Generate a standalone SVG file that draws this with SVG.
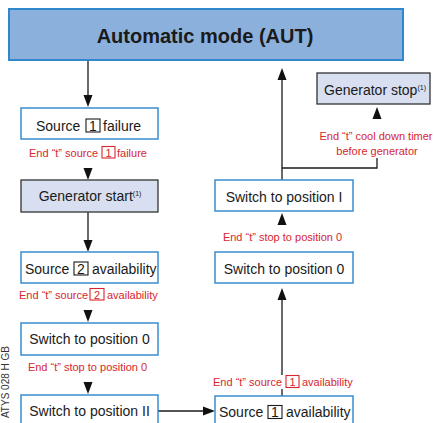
<svg xmlns="http://www.w3.org/2000/svg" width="434" height="423" viewBox="0 0 434 423">
<style>
.box{fill:#ffffff;stroke:#3a8dcf;stroke-width:1.5}
.gen{fill:#d7dff0;stroke:#333333;stroke-width:1.3}
.main{fill:#8cb0dc;stroke:#2e88cb;stroke-width:2}
.t{font-family:"Liberation Sans",Arial,sans-serif;font-size:14px;fill:#1a1a1a}
.r{font-family:"Liberation Sans",Arial,sans-serif;font-size:11px;fill:#d7262e}
.c{text-anchor:middle}
.kb{fill:none;stroke:#1a1a1a;stroke-width:1.1}
.kr{fill:none;stroke:#d7262e;stroke-width:1.1}
.ln{fill:none;stroke:#1a1a1a;stroke-width:1.3}
.ah{fill:#111111}
.sup{font-size:7px}
</style>
<defs>
<path id="ahDown" d="M-4.5,-12 L4.5,-12 L0,0 Z"/>
<path id="ahUp" d="M-4.5,12 L4.5,12 L0,0 Z"/>
<path id="ahRight" d="M-12,-4.5 L-12,4.5 L0,0 Z"/>
</defs>

<g id="connectors">
<line class="ln" x1="88" y1="60" x2="88" y2="97"/>
<use href="#ahDown" class="ah" x="88" y="107"/>
<use href="#ahDown" class="ah" x="88" y="180"/>
<line class="ln" x1="88" y1="212" x2="88" y2="242"/>
<use href="#ahDown" class="ah" x="88" y="252"/>
<use href="#ahDown" class="ah" x="88" y="322"/>
<use href="#ahDown" class="ah" x="88" y="394"/>
<line class="ln" x1="158" y1="411" x2="205" y2="411"/>
<use href="#ahRight" class="ah" x="215" y="411"/>
<line class="ln" x1="282" y1="396" x2="282" y2="389"/>
<line class="ln" x1="282" y1="375" x2="282" y2="298"/>
<use href="#ahUp" class="ah" x="282" y="288"/>
<use href="#ahUp" class="ah" x="282" y="213"/>
<line class="ln" x1="282" y1="180" x2="282" y2="78"/>
<use href="#ahUp" class="ah" x="282" y="68"/>
<polyline class="ln" points="282,168 377,168 377,158"/>
<use href="#ahUp" class="ah" x="377" y="107"/>
</g>

<g id="main">
<rect class="main" x="9" y="9" width="394" height="51"/>
<text class="t c" x="205" y="42.5" style="font-size:20px;font-weight:bold">Automatic mode (AUT)</text>
</g>

<g id="source1-failure">
<rect class="box" x="21" y="108" width="137" height="31"/>
<text class="t" x="36" y="130.5">Source</text>
<rect class="kb" x="86" y="119" width="14" height="13"/>
<text class="t c" x="93" y="130.5">1</text>
<text class="t" x="103" y="130.5">failure</text>
</g>
<g id="label-source1-failure">
<text class="r" x="29" y="157">End “t” source</text>
<rect class="kr" x="102" y="146.5" width="13" height="11.5"/>
<text class="r c" x="108.5" y="157">1</text>
<text class="r" x="117" y="157">failure</text>
</g>

<g id="generator-start">
<rect class="gen" x="21" y="180" width="137" height="32"/>
<text class="t c" x="90" y="201">Generator start<tspan class="sup" dy="-5">(1)</tspan></text>
</g>

<g id="source2-availability">
<rect class="box" x="21" y="252" width="137" height="31"/>
<text class="t" x="25" y="274">Source</text>
<rect class="kb" x="74" y="262" width="14" height="13"/>
<text class="t c" x="81" y="274">2</text>
<text class="t" x="92" y="274">availability</text>
</g>
<g id="label-source2-availability">
<text class="r" x="19" y="299">End “t” source</text>
<rect class="kr" x="90" y="288.5" width="14" height="11.5"/>
<text class="r c" x="97" y="299">2</text>
<text class="r" x="107" y="299">availability</text>
</g>

<g id="switch0-left">
<rect class="box" x="21" y="323" width="137" height="32"/>
<text class="t c" x="89.5" y="344">Switch to position 0</text>
</g>
<g id="label-stop0-left">
<text class="r c" x="87.5" y="370.5">End “t” stop to position 0</text>
</g>

<g id="switch2">
<rect class="box" x="21" y="395" width="137" height="34"/>
<text class="t c" x="89.5" y="416">Switch to position II</text>
</g>

<g id="source1-availability">
<rect class="box" x="215" y="396" width="138" height="34"/>
<text class="t" x="219" y="417">Source</text>
<rect class="kb" x="268" y="405.5" width="14" height="13"/>
<text class="t c" x="275" y="417">1</text>
<text class="t" x="286" y="417">availability</text>
</g>
<g id="label-source1-availability">
<text class="r" x="213" y="386">End “t” source</text>
<rect class="kr" x="286" y="375.5" width="13" height="12"/>
<text class="r c" x="292.5" y="386">1</text>
<text class="r" x="302" y="386">availability</text>
</g>

<g id="switch0-right">
<rect class="box" x="215" y="252" width="138" height="31"/>
<text class="t c" x="284" y="274">Switch to position 0</text>
</g>
<g id="label-stop0-right">
<text class="r c" x="282.5" y="241">End “t” stop to position 0</text>
</g>

<g id="switch1">
<rect class="box" x="215" y="180" width="138" height="31"/>
<text class="t c" x="284" y="201.5">Switch to position I</text>
</g>

<g id="label-cooldown">
<text class="r c" x="376" y="140">End “t” cool down timer</text>
<text class="r c" x="377" y="154.5">before generator</text>
</g>

<g id="generator-stop">
<rect class="gen" x="317" y="73" width="113" height="31"/>
<text class="t c" x="375" y="95">Generator stop<tspan class="sup" dy="-5">(1)</tspan></text>
</g>

<text transform="translate(9,346) rotate(-90)" text-anchor="end" style="font-family:'Liberation Sans',Arial,sans-serif;font-size:10px;fill:#333333">ATYS 028 H GB</text>
</svg>
